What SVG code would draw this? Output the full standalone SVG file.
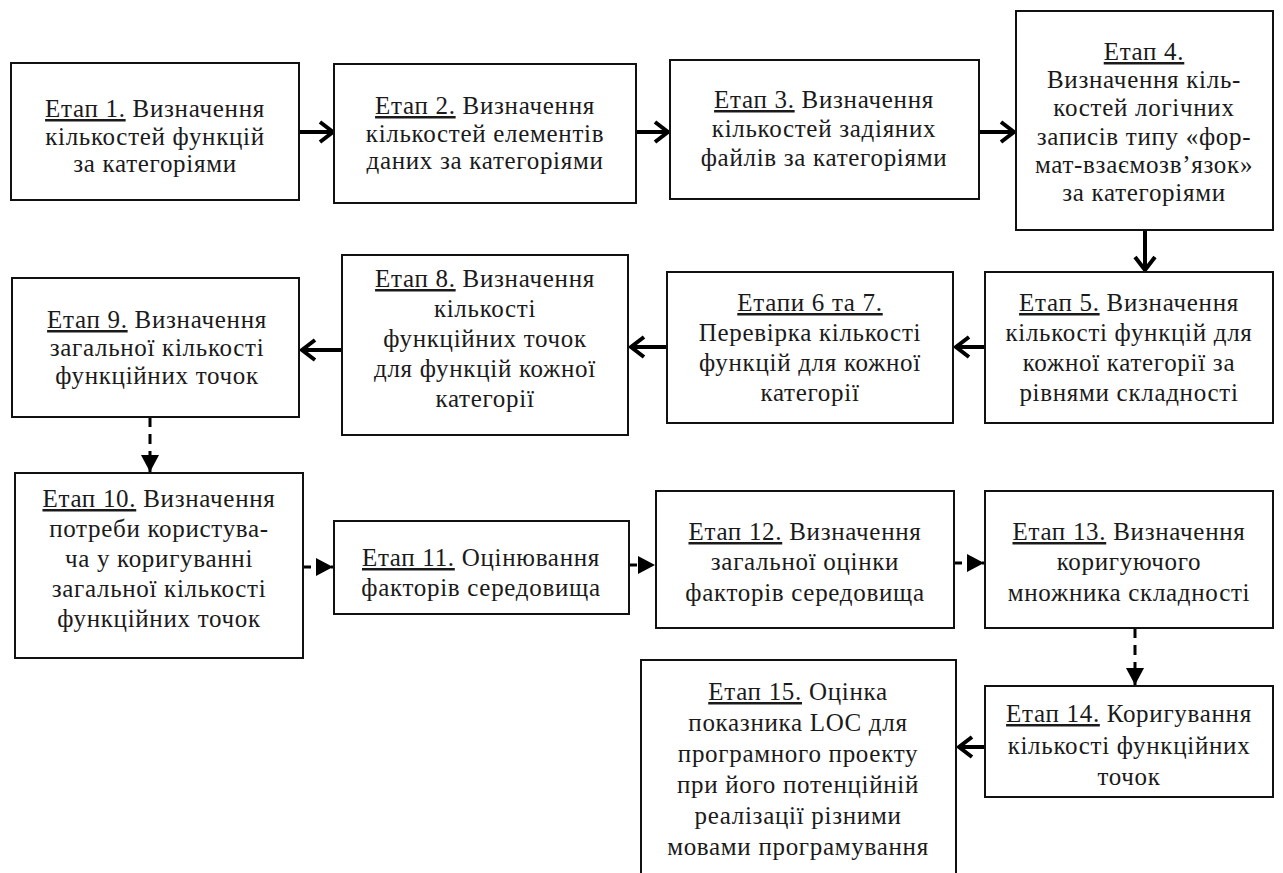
<svg xmlns="http://www.w3.org/2000/svg" width="1283" height="873" viewBox="0 0 1283 873">
<style>
.box{fill:#fff;stroke:#111;stroke-width:2}
.t{font-family:"Liberation Serif","Times New Roman",serif;font-size:25px;fill:#1a1a1a;text-anchor:middle;letter-spacing:0.7px}
.u{text-decoration:underline;text-decoration-thickness:2px}
.sol{stroke:#000;stroke-width:4;fill:none}
.dash{stroke:#000;stroke-width:3;fill:none;stroke-dasharray:10 7}
.dsh{stroke:#000;stroke-width:3;fill:none;stroke-dasharray:8 6}
</style>
<defs>
<marker id="chev" markerUnits="userSpaceOnUse" markerWidth="24" markerHeight="26" refX="20" refY="13" orient="auto">
<path d="M7,3 L20,13 L7,23" fill="none" stroke="#000" stroke-width="4" stroke-linejoin="miter"/>
</marker>
<marker id="tri" markerUnits="userSpaceOnUse" markerWidth="20" markerHeight="20" refX="18" refY="10" orient="auto">
<path d="M1,1 L18,10 L1,19 Z" fill="#000"/>
</marker>
</defs>
<rect width="1283" height="873" fill="#fff"/>

<g id="connectors">
<line class="sol" x1="299" y1="132" x2="333" y2="132" marker-end="url(#chev)"/>
<line class="sol" x1="636" y1="132" x2="668" y2="132" marker-end="url(#chev)"/>
<line class="sol" x1="979" y1="132" x2="1014" y2="132" marker-end="url(#chev)"/>
<line class="sol" x1="1145" y1="230" x2="1145" y2="270" marker-end="url(#chev)"/>
<line class="sol" x1="985" y1="347" x2="956" y2="347" marker-end="url(#chev)"/>
<line class="sol" x1="667" y1="347" x2="631" y2="347" marker-end="url(#chev)"/>
<line class="sol" x1="342" y1="350" x2="302" y2="350" marker-end="url(#chev)"/>
<line class="dash" x1="150" y1="417" x2="150" y2="472" marker-end="url(#tri)"/>
<line class="dsh" x1="303" y1="567" x2="333" y2="567" marker-end="url(#tri)"/>
<line class="dsh" x1="629" y1="565" x2="655" y2="565" marker-end="url(#tri)"/>
<line class="dsh" x1="954" y1="563" x2="984" y2="563" marker-end="url(#tri)"/>
<line class="dash" x1="1135" y1="628" x2="1135" y2="685" marker-end="url(#tri)"/>
<line class="sol" x1="985" y1="747" x2="959" y2="747" marker-end="url(#chev)"/>
</g>

<g id="n1">
<rect class="box" x="11" y="63" width="288" height="137"/>
<text class="t" x="155" y="117"><tspan class="u">Етап 1.</tspan> Визначення</text>
<text class="t" x="155" y="145">кількостей функцій</text>
<text class="t" x="155" y="172">за категоріями</text>
</g>
<g id="n2">
<rect class="box" x="334" y="64" width="302" height="139"/>
<text class="t" x="485" y="114"><tspan class="u">Етап 2.</tspan> Визначення</text>
<text class="t" x="485" y="142">кількостей елементів</text>
<text class="t" x="485" y="169">даних за категоріями</text>
</g>
<g id="n3">
<rect class="box" x="670" y="60" width="309" height="139"/>
<text class="t" x="824" y="108"><tspan class="u">Етап 3.</tspan> Визначення</text>
<text class="t" x="824" y="137">кількостей задіяних</text>
<text class="t" x="824" y="166">файлів за категоріями</text>
</g>
<g id="n4">
<rect class="box" x="1016" y="11" width="257" height="219"/>
<text class="t" x="1144" y="60"><tspan class="u">Етап 4.</tspan></text>
<text class="t" x="1144" y="88">Визначення кіль-</text>
<text class="t" x="1144" y="116">костей логічних</text>
<text class="t" x="1144" y="145">записів типу «фор-</text>
<text class="t" x="1144" y="173">мат-взаємозв’язок»</text>
<text class="t" x="1144" y="201">за категоріями</text>
</g>
<g id="n5">
<rect class="box" x="985" y="272" width="288" height="151"/>
<text class="t" x="1129" y="311"><tspan class="u">Етап 5.</tspan> Визначення</text>
<text class="t" x="1129" y="341">кількості функцій для</text>
<text class="t" x="1129" y="371">кожної категорії за</text>
<text class="t" x="1129" y="401">рівнями складності</text>
</g>
<g id="n6">
<rect class="box" x="667" y="272" width="286" height="151"/>
<text class="t" x="810" y="311"><tspan class="u">Етапи 6 та 7.</tspan></text>
<text class="t" x="810" y="341">Перевірка кількості</text>
<text class="t" x="810" y="371">функцій для кожної</text>
<text class="t" x="810" y="401">категорії</text>
</g>
<g id="n8">
<rect class="box" x="342" y="255" width="286" height="180"/>
<text class="t" x="485" y="287"><tspan class="u">Етап 8.</tspan> Визначення</text>
<text class="t" x="485" y="317">кількості</text>
<text class="t" x="485" y="347">функційних точок</text>
<text class="t" x="485" y="377">для функцій кожної</text>
<text class="t" x="485" y="407">категорії</text>
</g>
<g id="n9">
<rect class="box" x="12" y="278" width="287" height="139"/>
<text class="t" x="157" y="328"><tspan class="u">Етап 9.</tspan> Визначення</text>
<text class="t" x="157" y="356">загальної кількості</text>
<text class="t" x="157" y="384">функційних точок</text>
</g>
<g id="n10">
<rect class="box" x="15" y="473" width="288" height="185"/>
<text class="t" x="159" y="507"><tspan class="u">Етап 10.</tspan> Визначення</text>
<text class="t" x="159" y="537">потреби користува-</text>
<text class="t" x="159" y="567">ча у коригуванні</text>
<text class="t" x="159" y="597">загальної кількості</text>
<text class="t" x="159" y="627">функційних точок</text>
</g>
<g id="n11">
<rect class="box" x="334" y="521" width="295" height="93"/>
<text class="t" x="481" y="566"><tspan class="u">Етап 11.</tspan> Оцінювання</text>
<text class="t" x="481" y="596">факторів середовища</text>
</g>
<g id="n12">
<rect class="box" x="656" y="491" width="298" height="137"/>
<text class="t" x="805" y="540"><tspan class="u">Етап 12.</tspan> Визначення</text>
<text class="t" x="805" y="570">загальної оцінки</text>
<text class="t" x="805" y="601">факторів середовища</text>
</g>
<g id="n13">
<rect class="box" x="985" y="491" width="288" height="137"/>
<text class="t" x="1129" y="540"><tspan class="u">Етап 13.</tspan> Визначення</text>
<text class="t" x="1129" y="570">коригуючого</text>
<text class="t" x="1129" y="601">множника складності</text>
</g>
<g id="n14">
<rect class="box" x="985" y="686" width="288" height="111"/>
<text class="t" x="1129" y="722"><tspan class="u">Етап 14.</tspan> Коригування</text>
<text class="t" x="1129" y="754">кількості функційних</text>
<text class="t" x="1129" y="785">точок</text>
</g>
<g id="n15">
<rect class="box" x="641" y="660" width="315" height="230"/>
<text class="t" x="798" y="700"><tspan class="u">Етап 15.</tspan> Оцінка</text>
<text class="t" x="798" y="731">показника LOC для</text>
<text class="t" x="798" y="762">програмного проекту</text>
<text class="t" x="798" y="793">при його потенційній</text>
<text class="t" x="798" y="824">реалізації різними</text>
<text class="t" x="798" y="855">мовами програмування</text>
</g>
</svg>
